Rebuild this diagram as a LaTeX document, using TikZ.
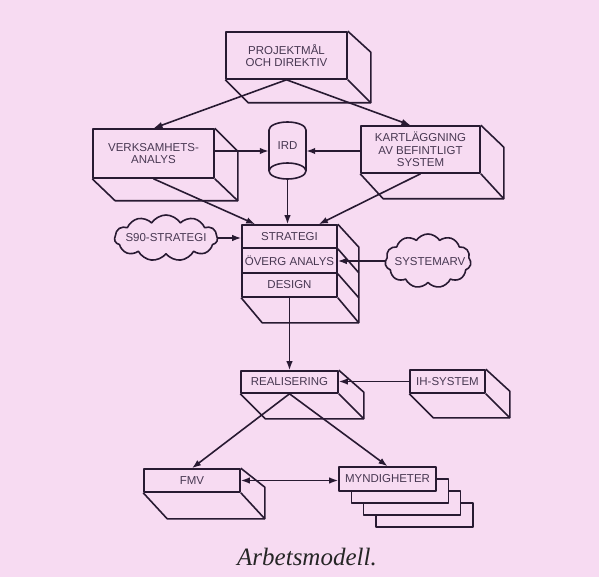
\documentclass[tikz,border=0pt]{standalone}
\usepackage{fontspec}
\setmainfont{Liberation Sans}
\newfontfamily\capfont{Liberation Serif}
\usetikzlibrary{calc,arrows.meta,shapes.symbols}
\definecolor{bg}{RGB}{247,219,242}
\definecolor{ink}{RGB}{40,26,50}
\definecolor{txt}{RGB}{72,56,82}
\tikzset{
  ln/.style={draw=ink, line width=1.6pt, line join=round},
  front/.style={ln, fill=bg, rectangle, inner sep=0pt, font=\fontsize{11.5}{12.5}\selectfont, text=txt, align=center},
  arr/.style={ln, -{Latex[length=9pt,width=6.5pt]}},
  dblarr/.style={ln, {Latex[length=9pt,width=6.5pt]}-{Latex[length=9pt,width=6.5pt]}},
  cloudy/.style={ln, cloud, cloud puffs=11, cloud puff arc=115, inner sep=0pt},
  lbl/.style={font=\fontsize{11.5}{12.5}\selectfont, text=txt, inner sep=0pt}
}
\newcommand\ThreeD[4]{%
  \draw[ln] (#1.north east) -- ++(#2,#3) -- ($(#1.south east)+(#2,#4)$) -- ($(#1.south west)+(#2,#4)$) -- (#1.south west);
  \draw[ln] (#1.south east) -- ++(#2,#4);
}
\begin{document}
\begin{tikzpicture}[x=1pt,y=-1pt]
\fill[bg] (0,0) rectangle (599,577);
\useasboundingbox (0,0) rectangle (599,577);

% boxes
\node[front, minimum width=121pt, minimum height=47pt] (proj) at (286.5,55.5) {PROJEKTMÅL\\OCH DIREKTIV};
\ThreeD{proj}{23}{21}{23}
\node[front, minimum width=121pt, minimum height=49pt] (verk) at (153.5,153.5) {VERKSAMHETS-\\ANALYS};
\ThreeD{verk}{23}{23}{22}
\node[front, minimum width=119pt, minimum height=47pt] (kart) at (420.5,149.5) {KARTLÄGGNING\\AV BEFINTLIGT\\SYSTEM};
\ThreeD{kart}{23}{22}{25}

% IRD cylinder
\node[lbl, minimum width=37pt, minimum height=57pt] (ird) at (287.5,151) {};
\draw[ln] (269,171) -- (269,130) arc[start angle=180, end angle=0, x radius=18.5pt, y radius=8pt] -- (306,171);
\draw[ln] (287.5,171) ellipse[x radius=18.5pt, y radius=8pt];
\node[lbl] (irdt) at (287.5,146) {IRD};

% strategy stack
\node[front, minimum width=95pt, minimum height=23pt] (strat) at (289.5,236.5) {STRATEGI};
\node[front, minimum width=95pt, minimum height=25pt] (overg) at (289.5,260.5) {ÖVERG ANALYS};
\node[front, minimum width=95pt, minimum height=24pt] (design) at (289.5,285) {DESIGN};
\draw[ln] (strat.north east) -- ++(21,23) -- ($(design.south east)+(21,25)$) -- ($(design.south west)+(21,25)$) -- (design.south west);
\draw[ln] (strat.south east) -- ++(21,24);
\draw[ln] (overg.south east) -- ++(21,24);
\draw[ln] (design.south east) -- ++(21,25);

% clouds
\node[cloudy, minimum width=103pt, minimum height=46pt, aspect=2.2] (s90) at (166,238) {};
\node[lbl] (s90t) at (166,238) {S90-STRATEGI};
\node[cloudy, minimum width=86pt, minimum height=54pt, aspect=1.6] (sysarv) at (428,261) {};
\node[lbl] (sysarvt) at (430,262) {SYSTEMARV};

% lower boxes
\node[front, minimum width=97pt, minimum height=22pt] (real) at (289.5,382) {REALISERING};
\ThreeD{real}{25}{22}{25}
\node[front, minimum width=75pt, minimum height=23pt] (ih) at (447.5,381.5) {IH-SYSTEM};
\ThreeD{ih}{24}{22}{24}
\node[front, minimum width=96pt, minimum height=23pt] (fmv) at (192,480.5) {FMV};
\ThreeD{fmv}{24}{19}{26}

\coordinate (mc) at (387.5,479);
\foreach \k in {3,2,1}
  \draw[ln, fill=bg] ($(mc)+(-48.5+12.3*\k,-12+12*\k)$) rectangle ++(97,24);
\node[front, minimum width=97pt, minimum height=24pt] (mynd) at (mc) {MYNDIGHETER};

% connectors
\draw[arr] (proj.south) -- (verk.north);
\draw[arr] (proj.south) -- ($(kart.north)+(-10,0)$);
\draw[arr] (verk.east |- ird.west) -- (ird.west);
\draw[arr] (kart.west |- ird.east) -- (ird.east);
\draw[arr] (287.5,179) -- (287.5,179 |- strat.north);
\draw[arr] (verk.south) -- ($(strat.north west)+(14,0)$);
\draw[arr] (kart.south) -- ($(strat.north east)+(-19,0)$);
\draw[arr] (s90.east) -- (s90.east -| strat.west);
\draw[arr] (sysarv.west) -- (sysarv.west -| overg.east);
\draw[arr] (design.south) -- (real.north);
\draw[arr] (ih.west) -- (ih.west -| real.east);
\draw[arr] (real.south) -- (fmv.north);
\draw[arr] (real.south) -- (mynd.north);
\draw[dblarr] (fmv.east) -- (fmv.east -| mynd.west);

% caption
\node[font=\capfont\itshape\fontsize{25}{30}\selectfont, text=black!85, inner sep=0pt] (cap) at (307,557) {Arbetsmodell.};
\end{tikzpicture}
\end{document}
